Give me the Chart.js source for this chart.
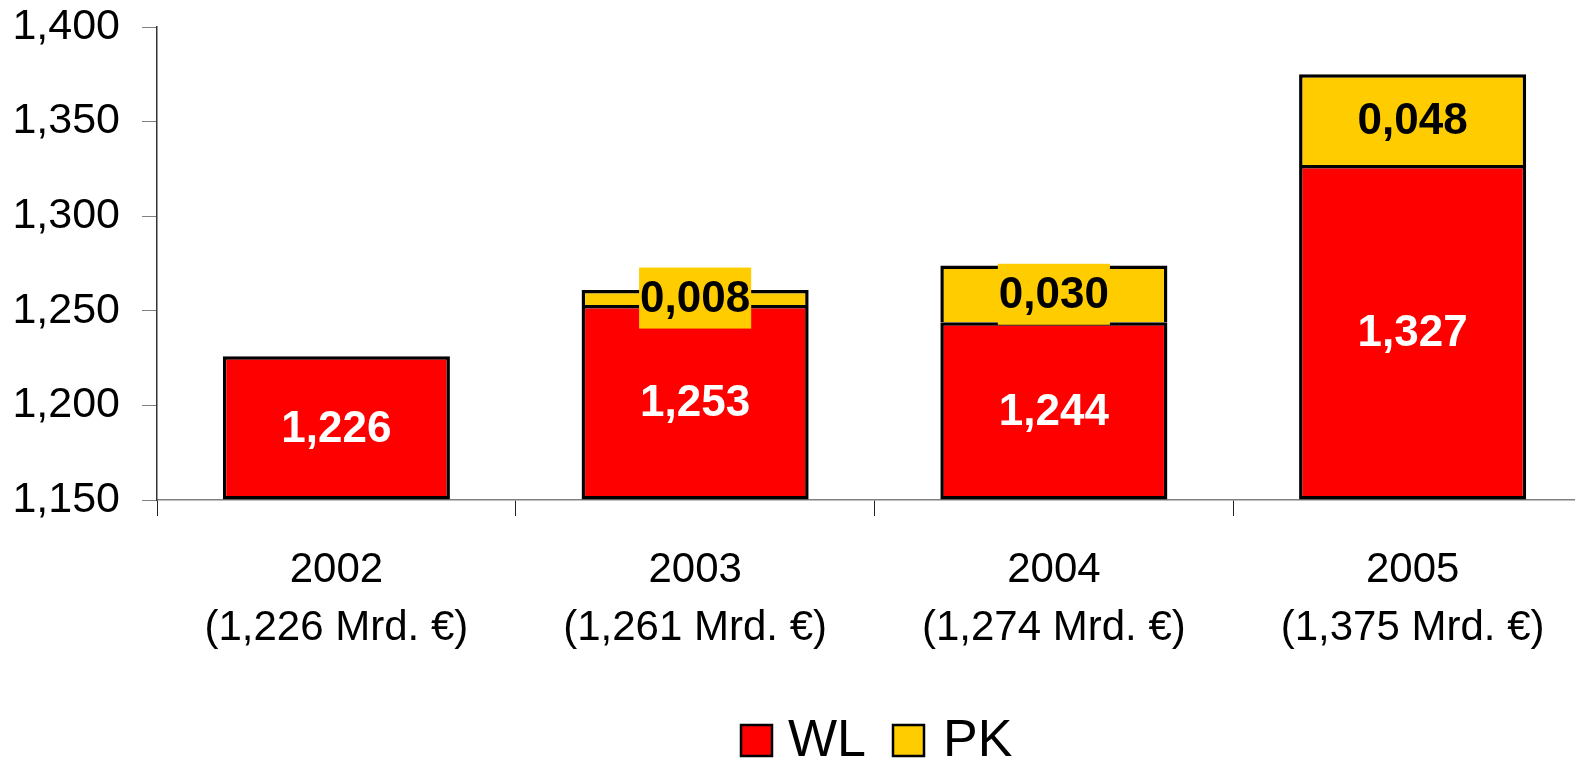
<!DOCTYPE html>
<html>
<head>
<meta charset="utf-8">
<script src="https://cdn.jsdelivr.net/npm/chart.js@4.4.0/dist/chart.umd.min.js"></script>
<style>
  html, body { margin: 0; padding: 0; background: #fff; overflow: hidden; }
  #wrap { position: absolute; left: 0; top: 0; width: 1592px; height: 761px; }
</style>
</head>
<body>
<div id="wrap"><canvas id="chart" width="1592" height="761"></canvas></div>
<script>
// values (Mrd. €)
const years = ['2002', '2003', '2004', '2005'];
const wlValues = [1.226, 1.253, 1.244, 1.327];
const pkValues = [null, 0.008, 0.030, 0.048];
const yTicks = [1.15, 1.2, 1.25, 1.3, 1.35, 1.4];

const RED = '#FF0000';
const YELLOW = '#FFCC00';
const FONT = "'Liberation Sans', Arial, sans-serif";

function fmt(v) {
    return v.toFixed(3).replace('.', ',');
}

// x labels: year plus the total in brackets
const xLabels = years.map((y, i) => [y, '(' + fmt(wlValues[i] + (pkValues[i] || 0)) + ' Mrd. €)']);

// labels inside the bars
const barLabels = {
    id: 'barLabels',
    afterDatasetsDraw(chart) {
        const ctx = chart.ctx;
        const bottom = chart.chartArea.bottom;
        ctx.save();
        ctx.font = 'bold 44px ' + FONT;
        ctx.textAlign = 'center';
        ctx.textBaseline = 'middle';
        chart.data.datasets.forEach((ds, di) => {
            const meta = chart.getDatasetMeta(di);
            meta.data.forEach((bar, i) => {
                const v = ds.data[i];
                if (v == null) return;
                const p = bar.getProps(['x', 'y', 'base'], true);
                const cy = (p.y + Math.min(p.base, bottom)) / 2;
                const txt = fmt(v);
                if (di === 1) {
                    const w = ctx.measureText(txt).width + 2;
                    ctx.fillStyle = YELLOW;
                    ctx.fillRect(p.x - w / 2, cy - 30, w, 61);
                    ctx.fillStyle = '#000';
                } else {
                    ctx.fillStyle = '#fff';
                }
                ctx.fillText(txt, p.x, cy + 2);
            });
        });
        ctx.restore();
    }
};

// legend at the bottom, drawn by hand
const bottomLegend = {
    id: 'bottomLegend',
    afterDraw(chart) {
        const ctx = chart.ctx;
        const items = [
            { x: 741, textX: 788 },
            { x: 893, textX: 943 }
        ];
        ctx.save();
        ctx.font = '52px ' + FONT;
        ctx.textBaseline = 'middle';
        ctx.textAlign = 'left';
        chart.data.datasets.forEach((ds, i) => {
            const it = items[i];
            ctx.fillStyle = ds.backgroundColor;
            ctx.fillRect(it.x, 725, 31, 31);
            ctx.lineWidth = 2.5;
            ctx.strokeStyle = '#000';
            ctx.strokeRect(it.x, 725, 31, 31);
            ctx.fillStyle = '#000';
            ctx.fillText(ds.label, it.textX, 742);
        });
        ctx.restore();
    }
};

new Chart(document.getElementById('chart'), {
    type: 'bar',
    data: {
        labels: xLabels,
        datasets: [
            {
                label: 'WL',
                data: wlValues,
                base: yTicks[0],
                backgroundColor: RED,
                borderColor: '#000',
                borderWidth: 3.5,
                borderSkipped: false,
                categoryPercentage: 1,
                barPercentage: 0.633
            },
            {
                label: 'PK',
                data: pkValues,
                backgroundColor: YELLOW,
                borderColor: '#000',
                borderWidth: 3.5,
                borderSkipped: 'start',
                categoryPercentage: 1,
                barPercentage: 0.633
            }
        ]
    },
    options: {
        responsive: false,
        animation: false,
        devicePixelRatio: 1,
        layout: { padding: { top: 27, left: 0, right: 0, bottom: 0 } },
        plugins: {
            legend: { display: false },
            tooltip: { enabled: false }
        },
        scales: {
            x: {
                stacked: true,
                grid: {
                    drawOnChartArea: false,
                    tickLength: 16,
                    color: '#222',
                    offset: true
                },
                border: { color: '#808080', width: 1.5 },
                ticks: {
                    color: '#000',
                    padding: 25,
                    maxRotation: 0,
                    font: { family: FONT, size: 42, lineHeight: 1.38 }
                },
                afterFit(scale) { scale.height = 261; }
            },
            y: {
                stacked: true,
                min: yTicks[0],
                max: yTicks[yTicks.length - 1],
                afterBuildTicks(scale) {
                    scale.ticks = yTicks.map(v => ({ value: v }));
                },
                grid: {
                    drawOnChartArea: false,
                    tickLength: 15,
                    color: '#808080'
                },
                border: { color: '#333', width: 1.5 },
                ticks: {
                    color: '#000',
                    padding: 22,
                    font: { family: FONT, size: 43 },
                    callback: v => fmt(v)
                },
                afterFit(scale) {
                    scale.width = 157;
                    scale.paddingTop = 0;
                    scale.paddingBottom = 0;
                }
            }
        }
    },
    plugins: [barLabels, bottomLegend]
});
</script>
</body>
</html>
